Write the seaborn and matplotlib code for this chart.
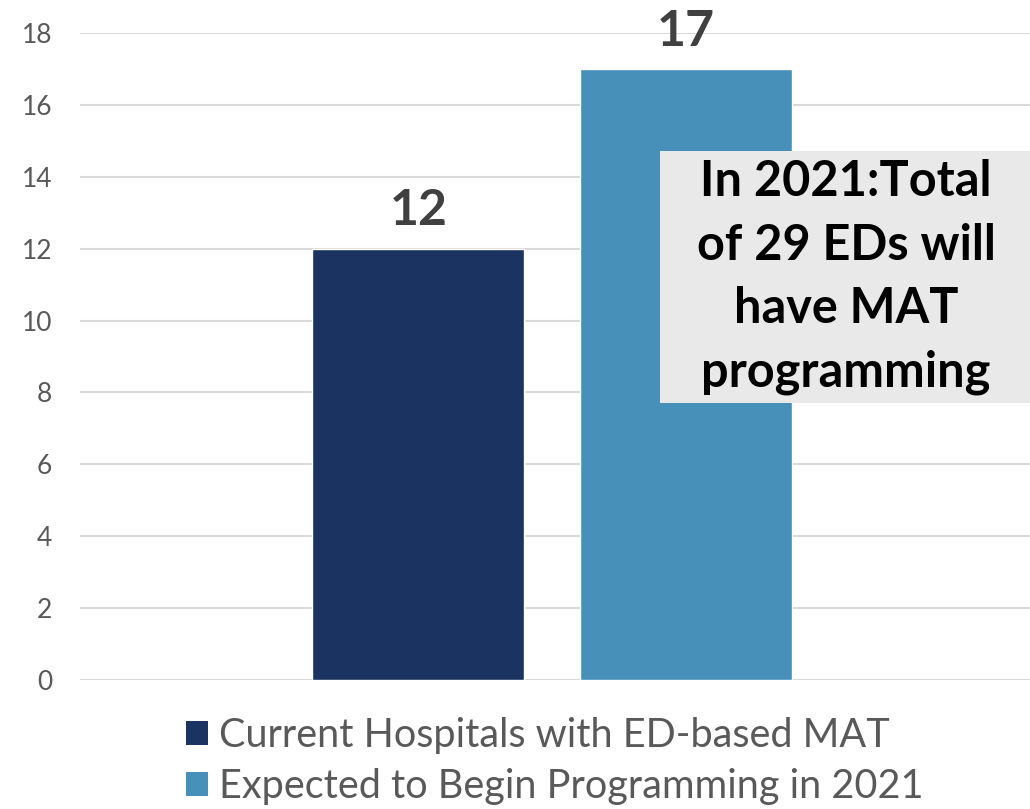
import pandas as pd
import seaborn as sns
import matplotlib.pyplot as plt
from matplotlib.patches import Patch, Rectangle

# dados do grafico
series = ['Current Hospitals with ED-based MAT', 'Expected to Begin Programming in 2021']
values = [12, 17]
colors = ['#1B3360', '#4690BA']
y_ticks = [0, 2, 4, 6, 8, 10, 12, 14, 16, 18]
callout = 'In 2021:Total\nof 29 EDs will\nhave MAT\nprogramming'

df = pd.DataFrame({'group': ['all'] * len(series), 'series': series, 'value': values})

sns.set_theme(style='white')
plt.rcParams['font.family'] = ['Lato', 'DejaVu Sans']

W, H = 1030, 809
fig = plt.figure(figsize=(W / 100, H / 100), dpi=100)
ax = fig.add_axes([80 / W, 129 / H, 950 / W, 647 / H])

sns.barplot(data=df, x='group', y='value', hue='series', hue_order=series,
            palette=colors, width=0.564, gap=0.209, saturation=1,
            legend=False, ax=ax)

ax.set_xlim(-0.497, 0.503)
ax.set_ylim(0, 18)
ax.set_yticks(y_ticks)
ax.set_xticks([])
ax.set_xlabel('')
ax.set_ylabel('')
ax.yaxis.grid(True, color='#D9D9D9', linewidth=1.5)
ax.set_axisbelow(True)
sns.despine(ax=ax, left=True, bottom=True)
ax.tick_params(axis='y', length=0, pad=20, labelsize=19, labelcolor='#595959')

# rotulos das barras
for c in ax.containers:
    ax.bar_label(c, padding=11, fontsize=36, fontweight='bold', color='#404040')

# caixa de texto
fig.add_artist(Rectangle((660 / W, (H - 403) / H), 370 / W, 252 / H,
                         transform=fig.transFigure, facecolor='#E9E9E9',
                         edgecolor='none', zorder=5))
fig.text(846 / W, (H - 277) / H, callout, ha='center', va='center',
         fontsize=35, fontweight='bold', color='black', linespacing=1.5, zorder=6)

# legenda
handles = [Patch(facecolor=col, edgecolor='none') for col in colors]
fig.legend(handles, series, loc='upper left', bbox_to_anchor=(166 / W, (H - 697) / H),
           frameon=False, fontsize=28.5, labelcolor='#595959', handlelength=0.55,
           handleheight=0.55, handletextpad=0.3, labelspacing=0.35, borderpad=0)

fig.savefig('out.png', dpi=100)
